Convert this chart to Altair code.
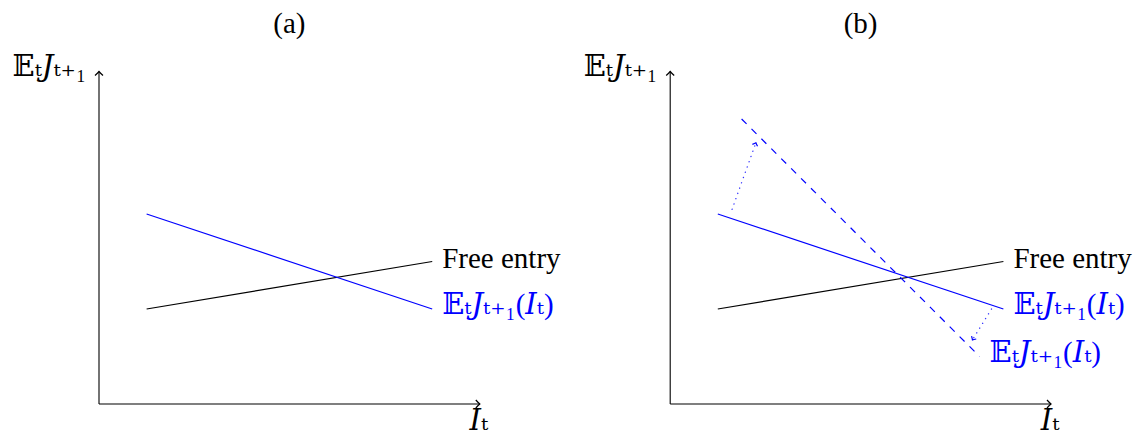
import math
import altair as alt
import pandas as pd

# ---------------- data ----------------
panel_titles = ["(a)", "(b)"]
panel_shift = [0, 12]            # panel (b) drawn 12 units to the right
axis_x_end = 8
axis_y_end = 7
free_entry_x = [1, 7]
free_entry_y = [2, 3]
demand_x = [1, 7]
demand_y = [4, 2]
shifted_x = [1.5, 6.5]           # dashed curve, panel (b) only
shifted_y = [6, 1]
shift_arrow_x = [[1.3, 1.8], [6.75, 6.35]]   # dotted arrows, panel (b)
shift_arrow_y = [[4.1, 5.5], [2.0, 1.35]]
title_xy = [4, 8]
y_label = "𝔼ₜ𝐽ₜ₊₁"
x_label = "𝐼ₜ"
free_label = "Free entry"
demand_label = "𝔼ₜ𝐽ₜ₊₁(𝐼ₜ)"

# ---------------- layout ----------------
W, H = 1125, 428
UX, UY = 47.6, 47.5
OX, OY = 91, 396
xdom = [-OX / UX, (W - OX) / UX]
ydom = [(OY - H) / UY, OY / UY]
XS = alt.Scale(domain=xdom, nice=False, zero=False)
YS = alt.Scale(domain=ydom, nice=False, zero=False)
FONT = "'Liberation Serif', 'DejaVu Serif', serif"
FS = 29
BLUE = "#0000ff"
CHEV = "M -1 -1 Q -0.35 -0.3 0 0 Q -0.35 0.3 -1 1"


def seg_df(rows):
    return pd.DataFrame(rows, columns=["x", "y", "x2", "y2"])


def rules(df, color, width=1.2, dash=None, cap="butt", opacity=1.0):
    kw = dict(color=color, strokeWidth=width, strokeCap=cap, opacity=opacity)
    if dash is not None:
        kw["strokeDash"] = dash
    return alt.Chart(df).mark_rule(**kw).encode(
        x=alt.X("x:Q", scale=XS, axis=None),
        y=alt.Y("y:Q", scale=YS, axis=None),
        x2="x2:Q", y2="y2:Q",
    )


def heads(df, color, size):
    return alt.Chart(df).mark_point(shape=CHEV, filled=False, color=color,
                                    strokeWidth=1.2, size=size, opacity=1).encode(
        x=alt.X("x:Q", scale=XS, axis=None),
        y=alt.Y("y:Q", scale=YS, axis=None),
        angle=alt.Angle("angle:Q", scale=None),
    )


def texts(df, color, align, dx, dy, baseline="alphabetic", italic=False):
    kw = dict(color=color, align=align, dx=dx, dy=dy, baseline=baseline,
              font=FONT, fontSize=FS)
    if italic:
        kw["fontStyle"] = "italic"
    return alt.Chart(df).mark_text(**kw).encode(
        x=alt.X("x:Q", scale=XS, axis=None),
        y=alt.Y("y:Q", scale=YS, axis=None),
        text="t:N",
    )


axes = seg_df([r for s in panel_shift for r in
               [(s, 0, s + axis_x_end, 0), (s, 0, s, axis_y_end)]])
free = seg_df([(s + free_entry_x[0], free_entry_y[0], s + free_entry_x[1], free_entry_y[1])
               for s in panel_shift])
demand = seg_df([(s + demand_x[0], demand_y[0], s + demand_x[1], demand_y[1])
                 for s in panel_shift])
sb = panel_shift[1]
shifted = seg_df([(sb + shifted_x[0], shifted_y[0], sb + shifted_x[1], shifted_y[1])])
dotted = seg_df([(sb + ax[0], ay[0], sb + ax[1], ay[1])
                 for ax, ay in zip(shift_arrow_x, shift_arrow_y)])

axis_heads = pd.DataFrame(
    [(s + axis_x_end, 0, 0) for s in panel_shift] +
    [(s, axis_y_end, 270) for s in panel_shift], columns=["x", "y", "angle"])


def ang(ax, ay):
    sx = (ax[1] - ax[0]) * UX
    sy = -(ay[1] - ay[0]) * UY
    return math.degrees(math.atan2(sy, sx)) % 360


dot_heads = pd.DataFrame(
    [(sb + ax[1], ay[1], ang(ax, ay)) for ax, ay in zip(shift_arrow_x, shift_arrow_y)],
    columns=["x", "y", "angle"])

titles = pd.DataFrame([(s + title_xy[0], title_xy[1], t)
                       for s, t in zip(panel_shift, panel_titles)], columns=["x", "y", "t"])
ylabs = pd.DataFrame([(s, axis_y_end, y_label) for s in panel_shift], columns=["x", "y", "t"])
xlabs = pd.DataFrame([(s + axis_x_end, 0, x_label) for s in panel_shift], columns=["x", "y", "t"])
freelabs = pd.DataFrame([(s + free_entry_x[1], free_entry_y[1], free_label)
                         for s in panel_shift], columns=["x", "y", "t"])
demlabs = pd.DataFrame([(s + demand_x[1], demand_y[1], demand_label) for s in panel_shift] +
                       [(sb + shifted_x[1], shifted_y[1], demand_label)],
                       columns=["x", "y", "t"])

chart = alt.layer(
    rules(axes, "black", 1.1),
    heads(axis_heads, "black", 64),
    rules(free, "black"),
    rules(demand, BLUE),
    rules(shifted, BLUE, 1.2, [7, 7]),
    rules(dotted, BLUE, 1.4, [0.1, 5.5], cap="round", opacity=0.8),
    heads(dot_heads, BLUE, 30),
    texts(titles, "black", "center", 0, 0, baseline="middle"),
    texts(ylabs, "black", "right", -13, 4),
    texts(xlabs, "black", "center", -1, 26),
    texts(freelabs, "black", "left", 10, 6),
    texts(demlabs, BLUE, "left", 10, 5),
).properties(
    width=W, height=H, padding=0,
    autosize=alt.AutoSizeParams(type="none"),
).configure_view(stroke=None)

chart.save("out.html", embed_options={"renderer": "svg", "actions": False})
